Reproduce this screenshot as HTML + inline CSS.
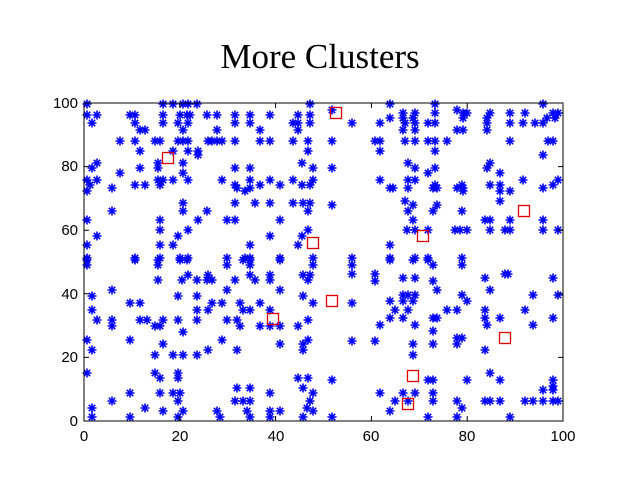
<!DOCTYPE html>
<html><head><meta charset="utf-8"><style>
body{margin:0;background:#fff;}
svg{display:block;}
text{font-family:"Liberation Sans",sans-serif;font-size:15px;fill:#000;}
</style></head><body>
<svg id="c" width="640" height="480" viewBox="0 0 640 480" xmlns="http://www.w3.org/2000/svg">
<defs><g id="s" stroke="#0000ff" stroke-width="1.6" fill="none"><path d="M-4.5 0H4.5M0 -4.5V4.5M-3.2 -3.2L3.2 3.2M-3.2 3.2L3.2 -3.2"/></g></defs>
<rect x="84" y="103" width="479" height="318" fill="#fff"/>
<text x="320" y="68" text-anchor="middle" style="font-family:'Liberation Serif',serif;font-size:35px">More Clusters</text>
<g id="pts"></g>
<g id="sq" stroke="#dd0000" stroke-width="1.3" fill="none"></g>
<rect x="84" y="103" width="479" height="318" fill="none" stroke="#000" stroke-width="1"/>
<g id="ticks" stroke="#000" stroke-width="1"></g>
<g text-anchor="middle">
<text x="84" y="441">0</text><text x="180" y="441">20</text><text x="276" y="441">40</text><text x="371" y="441">60</text><text x="467" y="441">80</text><text x="563" y="441">100</text>
</g>
<g text-anchor="end">
<text x="78" y="426">0</text><text x="78" y="362">20</text><text x="78" y="299">40</text><text x="78" y="235">60</text><text x="78" y="171">80</text><text x="78" y="108">100</text>
</g>
</svg>
<script>
var rows=[
[104,[87,163,173,183,188,197,310,390,435,543]],
[110,[332,457]],
[115,[87,97,130,135,163,180,187,190,207,217,235,250,270,298,310]],
[113,[403,415,435,463,467,490,510,525,553,558]],
[118,[390,403,413,463,487,547,555]],
[123,[92,135,163,178,188,235,250,293,298,310,352,380,405,415,428,435,487,510,523,535,543]],
[130,[140,145,183,217,260,298,403,415,457,463,487]],
[141,[120,135,155,160,178,183,188,208,212,217,222,235,260,270,293,308,332,375,380,405,415,428,435,447,510,548,553]],
[151,[140,173,188,198,308,380,435]],
[155,[198,543]],
[163,[97,158,183,302,408,490]],
[168,[92,140,158,235,250,313,332,415,435,487]],
[173,[120,183,428,500]],
[180,[87,97,158,163,173,188,222,250,270,293,313,380,408,415,523,558]],
[185,[90,135,145,160,235,260,280,302,310,435,462,490,500,553]],
[188,[112,237,250,390,393,408,433,437,457,463,543]],
[191,[87,245,463,500,510]],
[201,[405,500]],
[203,[183,235,255,270,293,303,310]],
[205,[332,413,437]],
[211,[112,183,207,308,408,433,462]],
[220,[87,160,198,227,235,280,413,485,490,510,543]],
[230,[160,188,308,407,415,428,455,460,467,490,505,510,543,558]],
[236,[97,178,270,302]],
[245,[87,160,173,250,298,390]],
[258,[87,135,160,180,188,227,245,250,280,313,352,390,415,428,462]],
[260,[87,135,158,180,187,243,250,280,390,413,428]],
[265,[87,158,227,250,313,352,433,462]],
[274,[352,375,505,508]],
[275,[188,208,250,270,303,310]],
[278,[403,415,485,553]],
[280,[158,182,197,207,212,235,255,270,308]],
[281,[375,433]],
[290,[112,227,280,437,490]],
[295,[403,408,415,462,533,558]],
[296,[92,178,197,303]],
[301,[390,403,413,467]],
[303,[130,140,212,222,240,260,313,352]],
[310,[92,197,208,243,250,270,395,408,447,457,485,525]],
[318,[390,403,433,437,485,500,553]],
[320,[97,112,140,147,163,178,197,227,237,308]],
[325,[380,415,487,533]],
[326,[112,155,160,240,260,270,280,298]],
[331,[433]],
[332,[183]],
[338,[457,462]],
[340,[87,130,222,308]],
[341,[352,375]],
[344,[163,280,303,413,433,457]],
[350,[92,208,237,303,485]],
[355,[155,173,183,197,413]],
[373,[87,155,178,490]],
[378,[160,178,298,308]],
[380,[332,428,433,467,500,553]],
[386,[553]],
[388,[237,250,303]],
[390,[543,553]],
[393,[130,160,173,180,270,313,380,403,415,433]],
[401,[112,178,235,243,250,310,395,408,433,457,485,490,500,525,533,543,553,558]],
[408,[92,145,307,462]],
[411,[163,183,217,247,270,280,313,390]],
[417,[92,130,178,220,250,270,303,332,428,457,510]]
];
var NS="http://www.w3.org/2000/svg",g=document.getElementById("pts");
rows.forEach(function(r){r[1].forEach(function(x){var u=document.createElementNS(NS,"use");u.setAttribute("href","#s");u.setAttribute("x",x);u.setAttribute("y",r[0]);g.appendChild(u);});});
var sq=[[168,158],[313,243],[336,113],[423,236],[524,211],[273,319],[332,301],[505,338],[413,376],[408,404]];
var s=document.getElementById("sq");
sq.forEach(function(p){var r=document.createElementNS(NS,"rect");r.setAttribute("x",p[0]-5.5);r.setAttribute("y",p[1]-5.5);r.setAttribute("width",11);r.setAttribute("height",11);s.appendChild(r);});
var t=document.getElementById("ticks"),d="";
for(var i=0;i<=5;i++){var x=84+i*95.8,y=421-i*63.6;d+="M"+x+" 421V416M"+x+" 103V108M84 "+y+"H89M563 "+y+"H558";}
var p=document.createElementNS(NS,"path");p.setAttribute("d",d);t.appendChild(p);
</script>
</body></html>
